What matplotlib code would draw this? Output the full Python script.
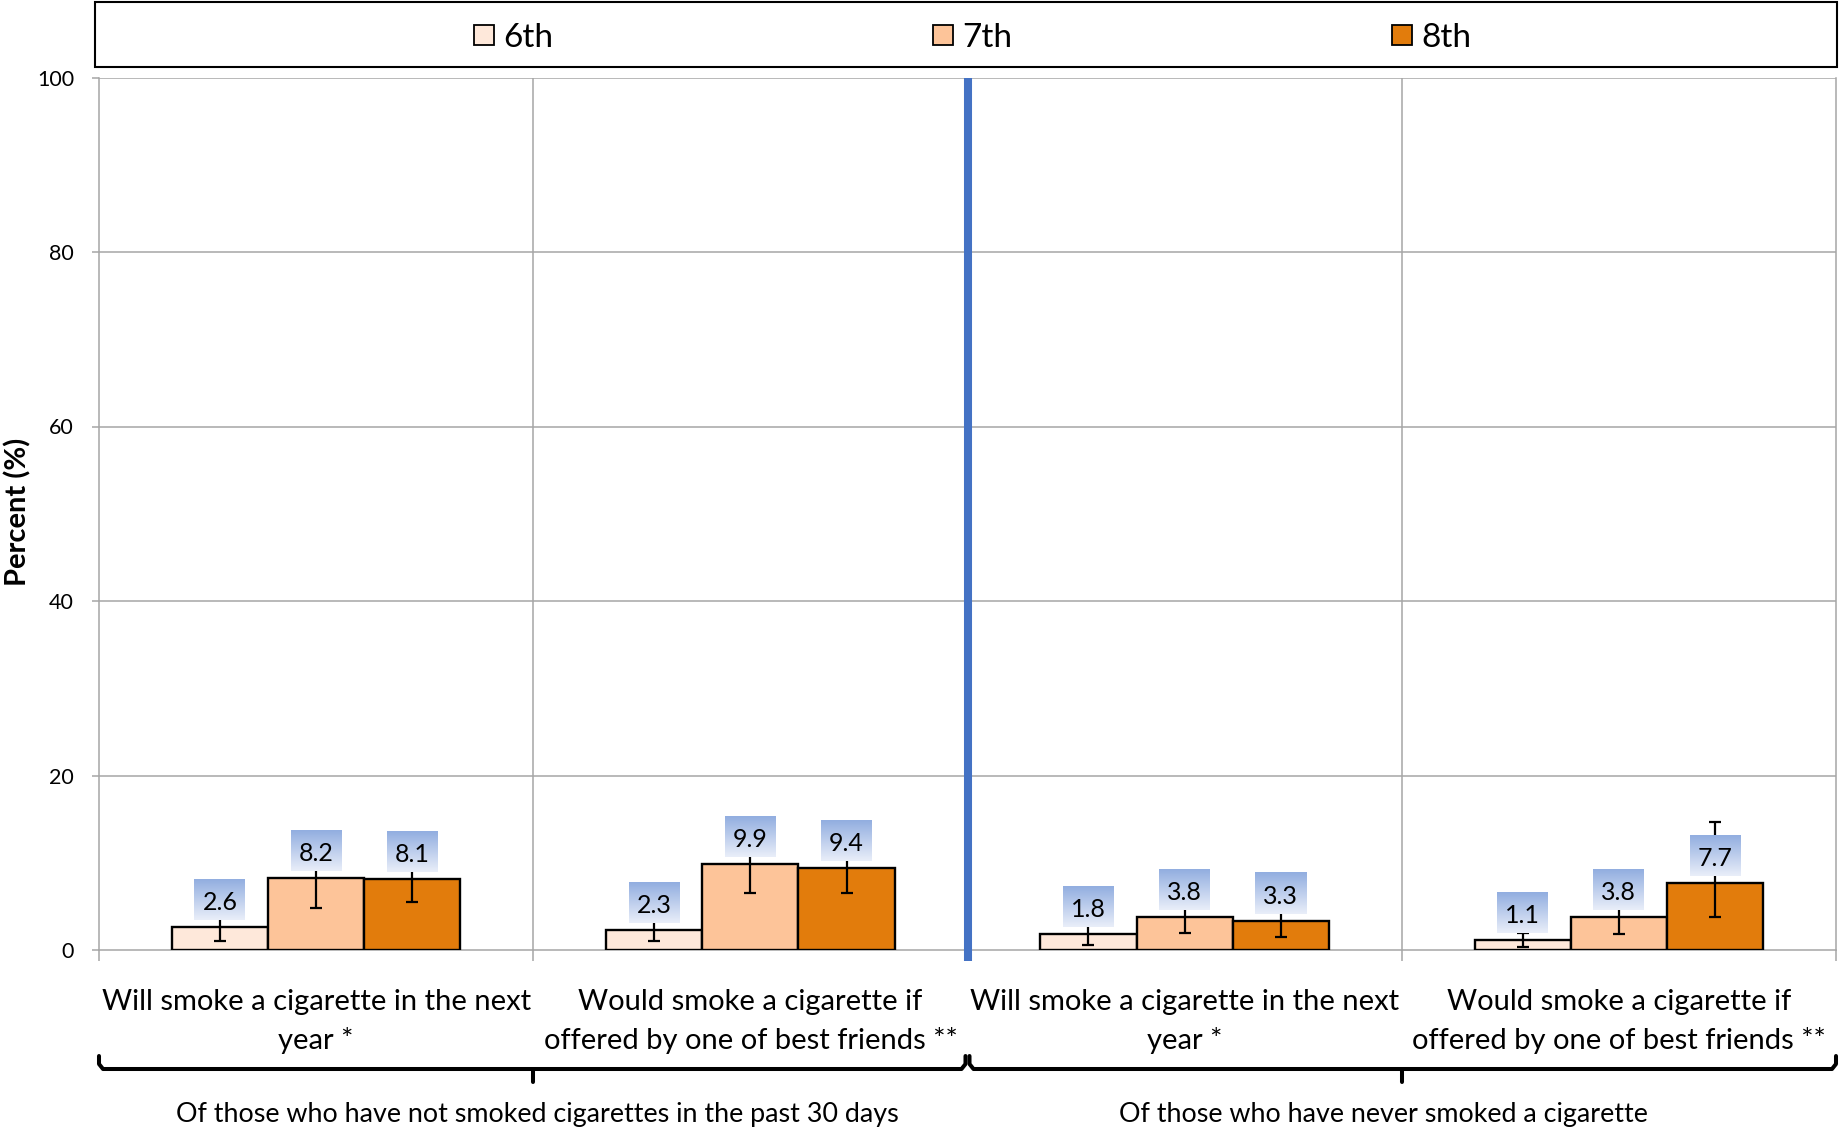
import numpy as np
import matplotlib
matplotlib.use("Agg")
import matplotlib.pyplot as plt
from matplotlib.colors import LinearSegmentedColormap
from matplotlib.patches import Rectangle
from matplotlib.lines import Line2D
import matplotlib.transforms as mtransforms

plt.rcParams['font.family'] = ['Lato', 'DejaVu Sans']

# ---------------- data ----------------
categories = [
    "Will smoke a cigarette in the next\nyear *",
    "Would smoke a cigarette if\noffered by one of best friends **",
    "Will smoke a cigarette in the next\nyear *",
    "Would smoke a cigarette if\noffered by one of best friends **",
]
groups = [
    "Of those who have not smoked cigarettes in the past 30 days",
    "Of those who have never smoked a cigarette",
]
series_names = ["6th", "7th", "8th"]
values_6th = [2.6, 2.3, 1.8, 1.1]
values_7th = [8.2, 9.9, 3.8, 3.8]
values_8th = [8.1, 9.4, 3.3, 7.7]
err_low_6th = [1.6, 1.3, 1.2, 0.8]
err_high_6th = [1.6, 1.3, 1.2, 0.8]
err_low_7th = [3.35, 3.4, 1.8, 2.0]
err_high_7th = [3.35, 3.4, 1.8, 2.0]
err_low_8th = [2.6, 2.9, 1.85, 3.9]
err_high_8th = [2.6, 2.9, 1.85, 7.0]
yticks = [0, 20, 40, 60, 80, 100]
ylabel = "Percent (%)"

colors = ["#FEE8DA", "#FDC499", "#E27C0C"]
values = [values_6th, values_7th, values_8th]
err_low = [err_low_6th, err_low_7th, err_low_8th]
err_high = [err_high_6th, err_high_7th, err_high_8th]

# ---------------- layout ----------------
W_PX, H_PX = 1839, 1134
fig = plt.figure(figsize=(W_PX / 100, H_PX / 100), dpi=100)
AX_L, AX_R, AX_T, AX_B = 99, 1836, 77.5, 950
ax = fig.add_axes([AX_L / W_PX, 1 - AX_B / H_PX, (AX_R - AX_L) / W_PX, (AX_B - AX_T) / H_PX])

n_cat = len(categories)
xlim = (-0.5, n_cat - 0.5)
ylim = (0, 100)
xpp = (xlim[1] - xlim[0]) / (AX_R - AX_L)   # data x per pixel
ypp = (ylim[1] - ylim[0]) / (AX_B - AX_T)   # data y per pixel

def fy(py):
    return 1 - py / H_PX

grid_c = "#A6A6A6"
x = np.arange(n_cat)
bw = 0.2215
offsets = [-bw, 0, bw]

# gridlines
for yt in yticks[1:]:
    ax.axhline(yt, color=grid_c, lw=1.1, zorder=0.5)
for b in np.arange(xlim[0] + 1, xlim[1], 1.0):
    ax.axvline(b, color=grid_c, lw=1.1, zorder=0.5)

# bars + errorbars
for i in range(3):
    xs = x + offsets[i]
    ax.bar(xs, values[i], width=bw, color=colors[i], edgecolor="black",
           linewidth=1.7, zorder=2, label=series_names[i])
    ax.errorbar(xs, values[i], yerr=[err_low[i], err_high[i]], fmt="none",
                ecolor="black", elinewidth=1.6, capsize=4.3, capthick=1.6, zorder=3)

# value label boxes with gradient
cmap = LinearSegmentedColormap.from_list("lbl", ["#E9EEF9", "#92AEE0"])
grad = np.linspace(0, 1, 64).reshape(-1, 1)
for i in range(3):
    for j in range(n_cat):
        v = values[i][j]
        xc = x[j] + offsets[i]
        y0 = v + 7 * ypp
        y1 = y0 + 41 * ypp
        ax.imshow(grad, extent=[xc - 25.5 * xpp, xc + 25.5 * xpp, y0, y1],
                  origin="lower", cmap=cmap, aspect="auto", zorder=4,
                  interpolation="bilinear")
        ax.text(xc, (y0 + y1) / 2 - 10.5 * ypp, f"{v:.1f}", ha="center",
                va="baseline", fontsize=18, zorder=5, color="black")

# separator
ax.axvline(1.5, ymin=-11 / (AX_B - AX_T), ymax=1, color="#4472C4", lw=5.8,
           zorder=6, clip_on=False, solid_capstyle="butt")

ax.set_xlim(*xlim)
ax.set_ylim(*ylim)
ax.set_yticks(yticks)
ax.set_yticklabels([str(t) for t in yticks], fontsize=15.5)
ax.tick_params(axis="y", length=5, color=grid_c, width=1.1, pad=13)
ax.set_xticks(np.arange(xlim[0], xlim[1] + 0.01, 1.0))
ax.set_xticklabels([])
ax.tick_params(axis="x", length=8, color=grid_c, width=1.1)
ax.spines["top"].set_visible(False)
for s in ["left", "right", "bottom"]:
    ax.spines[s].set_color(grid_c)
    ax.spines[s].set_linewidth(1.1)
    ax.spines[s].set_zorder(1)

# y label
fig.text(18 / W_PX, fy(512), ylabel, rotation=90, ha="center", va="center",
         fontsize=21, fontweight="bold")

# category labels (two lines each)
bt = mtransforms.blended_transform_factory(ax.transData, fig.transFigure)
for j, lab in enumerate(categories):
    for k, ln in enumerate(lab.split("\n")):
        fig.text(x[j], fy(1010 + 39 * k), ln, transform=bt, ha="center",
                 va="baseline", fontsize=21)

# brackets
def bracket(xa, xb, xm):
    yb = fy(1069)
    ytop = fy(1056)
    ydn = fy(1082)
    r = 4 * xpp
    lw = 2.9
    fig.add_artist(Line2D([xa, xa, xa + r, xb - r, xb, xb],
                          [ytop, fy(1064), yb, yb, fy(1064), ytop],
                          transform=bt, color="black", lw=lw,
                          solid_joinstyle="round", solid_capstyle="round"))
    fig.add_artist(Line2D([xm, xm], [yb, ydn], transform=bt, color="black", lw=lw,
                          solid_capstyle="round"))

bracket(xlim[0], 1.5 - 2 * xpp, 0.5)
bracket(1.5 + 2 * xpp, xlim[1], 2.5)

group_centers = [0.5 + 4 * xpp, 2.5 - 18 * xpp]
for g, gc in zip(groups, group_centers):
    fig.text(gc, fy(1122), g, transform=bt, ha="center", va="baseline", fontsize=19.4)

# legend box (manual)
fig.add_artist(Rectangle((95 / W_PX, fy(67)), (1837 - 95) / W_PX, (67 - 2) / H_PX,
                         transform=fig.transFigure, facecolor="white",
                         edgecolor="black", lw=1.5))
for i, name in enumerate(series_names):
    mx = 474 + 459 * i
    fig.add_artist(Rectangle((mx / W_PX, fy(45)), 20 / W_PX, 20 / H_PX,
                             transform=fig.transFigure, facecolor=colors[i],
                             edgecolor="black", lw=1.3))
    fig.text((mx + 29) / W_PX, fy(47), name, ha="left", va="baseline", fontsize=24)

fig.savefig("out.png", dpi=100)
